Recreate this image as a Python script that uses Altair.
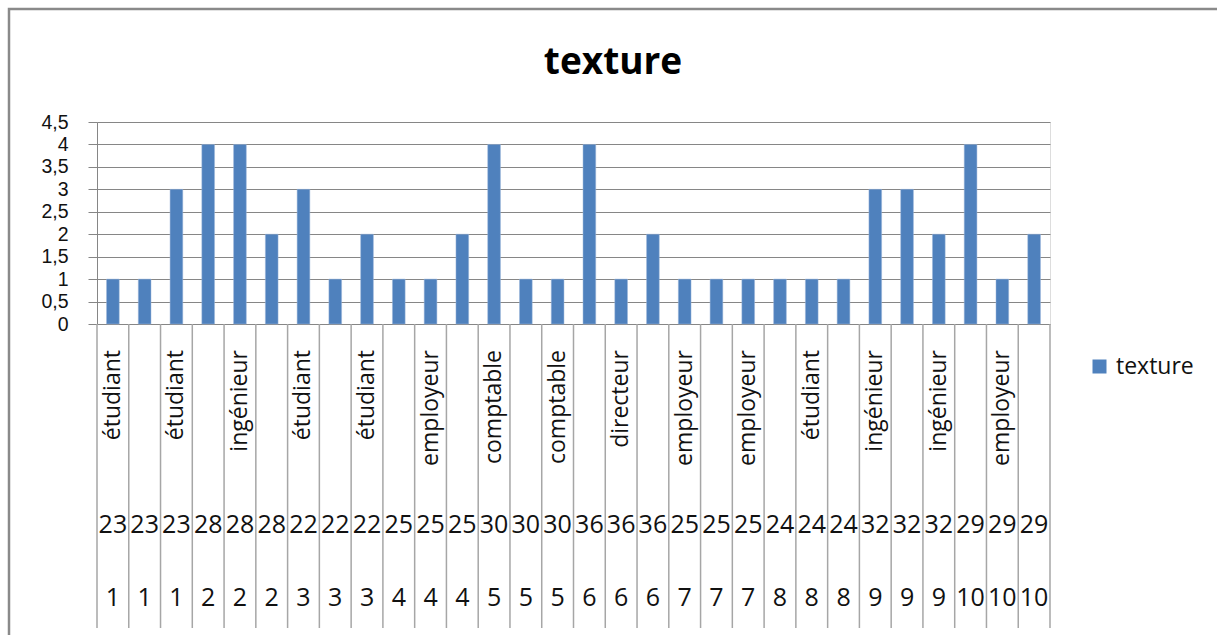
import altair as alt
import pandas as pd

# ---- data ----
ids = [1, 1, 1, 2, 2, 2, 3, 3, 3, 4, 4, 4, 5, 5, 5, 6, 6, 6, 7, 7, 7, 8, 8, 8, 9, 9, 9, 10, 10, 10]
ages = [23, 23, 23, 28, 28, 28, 22, 22, 22, 25, 25, 25, 30, 30, 30, 36, 36, 36, 25, 25, 25,
        24, 24, 24, 32, 32, 32, 29, 29, 29]
occupations = ["étudiant"] * 3 + ["ingénieur"] * 3 + ["étudiant"] * 3 + ["employeur"] * 3 + \
              ["comptable"] * 3 + ["directeur"] * 3 + ["employeur"] * 3 + ["étudiant"] * 3 + \
              ["ingénieur"] * 3 + ["employeur"] * 3
texture = [1, 1, 3, 4, 4, 2, 3, 1, 2, 1, 1, 2, 4, 1, 1, 4, 1, 2, 1, 1, 1, 1, 1, 1, 3, 3, 2, 4, 1, 2]
y_ticks = [0, 0.5, 1, 1.5, 2, 2.5, 3, 3.5, 4, 4.5]
series_name = "texture"
title_text = "texture"

n = len(texture)
keys = [f"k{i:02d}" for i in range(n)]
df = pd.DataFrame({
    "key": keys,
    "pos": list(range(n)),
    "id": [str(v) for v in ids],
    "age": [str(v) for v in ages],
    "occupation": occupations,
    "texture": texture,
    "series": [series_name] * n,
})

FONT = "Open Sans"
W, H = 953, 202
BAR = "#4F81BD"
GRID = "#868686"
DIV = "#A6A6A6"

xscale = alt.Scale(domain=keys, paddingInner=0, paddingOuter=0)
X = alt.X("key:N", scale=xscale, axis=None)
Xstart = alt.X("key:N", scale=xscale, axis=None, bandPosition=0)

base = alt.Chart(df)

bars = base.mark_bar(width={"band": 0.4}, stroke="#9DB7DA", strokeWidth=0.5).encode(
    x=X,
    y=alt.Y("texture:Q",
            scale=alt.Scale(domain=[0, 4.5], nice=False, zero=True),
            axis=alt.Axis(values=y_ticks, title=None, grid=True, gridColor=GRID, gridWidth=1,
                          gridOpacity=1, tickColor=GRID, tickSize=9, tickWidth=1,
                          domainColor=GRID, domainWidth=1, labelOverlap=False, labelBound=False,
                          labelFlush=False,
                          labelFont="Liberation Sans", labelFontSize=19.5, labelColor="#111",
                          labelPadding=20,
                          labelExpr="replace(toString(datum.value), '.', ',')")),
    color=alt.Color("series:N", scale=alt.Scale(range=[BAR]),
                    legend=alt.Legend(title=None, orient="none", legendX=991, legendY=233,
                                      symbolType="square", symbolSize=196, symbolStrokeWidth=0,
                                      labelFont=FONT, labelFontSize=23, labelColor="#111",
                                      labelOffset=5)),
)

dividers = base.mark_rule(color=DIV, strokeWidth=1.5).encode(
    x=Xstart, y=alt.value(H), y2=alt.value(506))

end_divider = alt.Chart(pd.DataFrame({"k": [0]})).mark_rule(color=DIV, strokeWidth=1.5).encode(
    x=alt.value(W), y=alt.value(H), y2=alt.value(506))

occ = base.transform_filter("datum.pos % 2 == 0").mark_text(
    angle=270, align="right", baseline="middle", font=FONT, fontSize=23, color="#111"
).encode(x=X, y=alt.value(228), text="occupation:N")

age_txt = base.mark_text(baseline="middle", font=FONT, fontSize=25, color="#111").encode(
    x=X, y=alt.value(403), text="age:N")

id_txt = base.mark_text(baseline="middle", font=FONT, fontSize=25, color="#111").encode(
    x=X, y=alt.value(476), text="id:N")

title = alt.Chart(pd.DataFrame({"t": [title_text]})).mark_text(
    font=FONT, fontSize=37, fontWeight="bold", color="#000", baseline="middle", align="center"
).encode(x=alt.value(516), y=alt.value(-59), text="t:N")

frame = alt.Chart(pd.DataFrame({"k": [0]})).mark_rect(
    fill=None, stroke="#8A8A8A", strokeWidth=2.5
).encode(x=alt.value(-88), y=alt.value(-113), x2=alt.value(1200), y2=alt.value(560))

chart = alt.layer(frame, dividers, end_divider, bars, occ, age_txt, id_txt, title).properties(
    width=W, height=H,
    autosize=alt.AutoSizeParams(type="none"),
    padding={"left": 97, "top": 122, "right": 1217 - 97 - W, "bottom": 635 - 122 - H},
).configure_view(stroke=None).configure(background="white")

chart.save("out.html", embed_options={"renderer": "svg", "actions": False})
